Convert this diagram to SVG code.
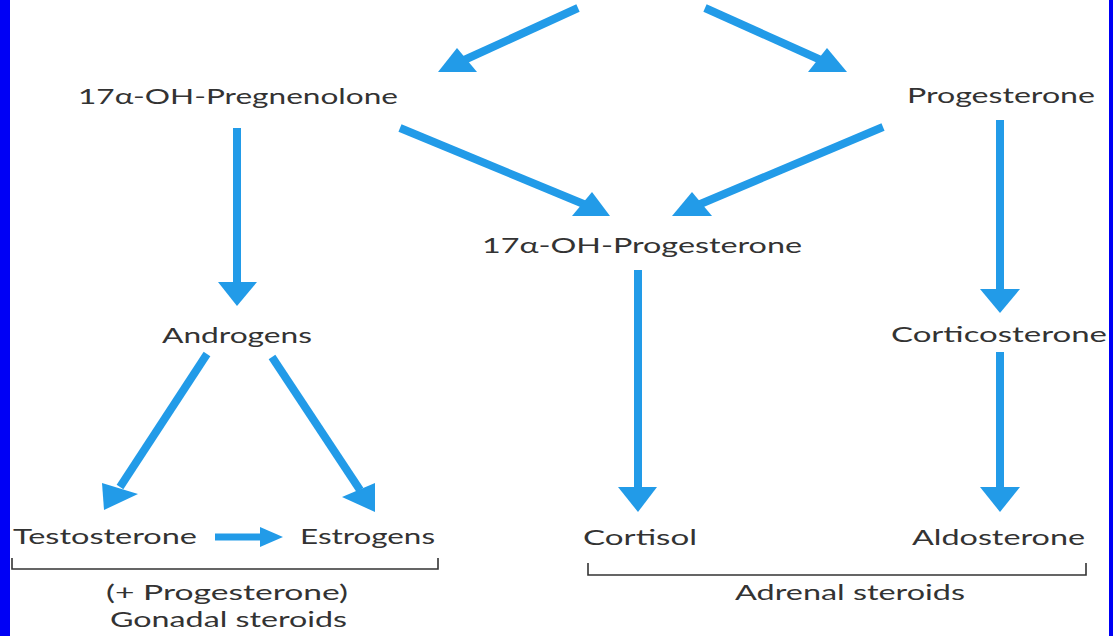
<svg xmlns="http://www.w3.org/2000/svg" width="1113" height="636" viewBox="0 0 1113 636">
<style>
.t{font-family:Lato,"Open Sans","Liberation Sans",sans-serif;font-size:21px;fill:#333333}
.ln{stroke:#229be8;stroke-width:8;fill:none}
.hd{fill:#229be8}
.br{stroke:#333333;stroke-width:1.6;fill:none}
</style>
<rect x="0" y="0" width="1113" height="636" fill="#ffffff"/>
<rect x="0" y="0" width="10" height="636" fill="#0000f5"/>
<rect x="1109" y="0" width="4" height="636" fill="#0000f5"/>
<g id="connectors">
<line class="ln" x1="578" y1="8" x2="462" y2="61"/>
<polygon class="hd" points="438,72 477,72 457,48"/>
<line class="ln" x1="705" y1="8" x2="823" y2="61"/>
<polygon class="hd" points="847,72 808,72 827,48"/>
<line class="ln" x1="400" y1="128" x2="586" y2="205"/>
<polygon class="hd" points="610,216 572,216 592,192"/>
<line class="ln" x1="883" y1="127" x2="698" y2="205"/>
<polygon class="hd" points="672,216 712,216 692,192"/>
<line class="ln" x1="237" y1="128" x2="237" y2="284"/>
<polygon class="hd" points="218,282 257,282 237,306"/>
<line class="ln" x1="1000" y1="120" x2="1000" y2="291"/>
<polygon class="hd" points="980,289 1020,289 1000,313"/>
<line class="ln" x1="638" y1="270" x2="638" y2="489"/>
<polygon class="hd" points="618,487 657,487 638,512"/>
<line class="ln" x1="1000" y1="352" x2="1000" y2="489"/>
<polygon class="hd" points="980,487 1020,487 1000,512"/>
<line class="ln" x1="207" y1="354" x2="120" y2="487"/>
<polygon class="hd" points="104,510 102,483 138,494"/>
<line class="ln" x1="272" y1="357" x2="360" y2="490"/>
<polygon class="hd" points="375,512 342,497 375,483"/>
<line class="ln" x1="215" y1="537" x2="262" y2="537" style="stroke-width:7"/>
<polygon class="hd" points="283,537 260,527 260,547"/>
</g>
<g id="n-pregnenolone"><text class="t" x="78" y="104" textLength="320" lengthAdjust="spacingAndGlyphs">17α-OH-Pregnenolone</text></g>
<g id="n-progesterone"><text class="t" x="907" y="103" textLength="188" lengthAdjust="spacingAndGlyphs">Progesterone</text></g>
<g id="n-ohprogesterone"><text class="t" x="482" y="253" textLength="320" lengthAdjust="spacingAndGlyphs">17α-OH-Progesterone</text></g>
<g id="n-androgens"><text class="t" x="162" y="343" textLength="150" lengthAdjust="spacingAndGlyphs">Androgens</text></g>
<g id="n-corticosterone"><text class="t" x="891" y="342" textLength="216" lengthAdjust="spacingAndGlyphs">Corticosterone</text></g>
<g id="n-testosterone"><text class="t" x="13" y="544" textLength="184" lengthAdjust="spacingAndGlyphs">Testosterone</text></g>
<g id="n-estrogens"><text class="t" x="300" y="544" textLength="135" lengthAdjust="spacingAndGlyphs">Estrogens</text></g>
<g id="n-cortisol"><text class="t" x="583" y="545" textLength="114" lengthAdjust="spacingAndGlyphs">Cortisol</text></g>
<g id="n-aldosterone"><text class="t" x="912" y="545" textLength="173" lengthAdjust="spacingAndGlyphs">Aldosterone</text></g>
<g id="gonadal">
<path class="br" d="M12,558 V569 H438 V558"/>
<text class="t" x="106" y="600" textLength="242" lengthAdjust="spacingAndGlyphs">(+ Progesterone)</text>
<text class="t" x="110" y="627" textLength="237" lengthAdjust="spacingAndGlyphs">Gonadal steroids</text>
</g>
<g id="adrenal">
<path class="br" d="M588,563 V575 H1086 V563"/>
<text class="t" x="735" y="600" textLength="230" lengthAdjust="spacingAndGlyphs">Adrenal steroids</text>
</g>
</svg>
